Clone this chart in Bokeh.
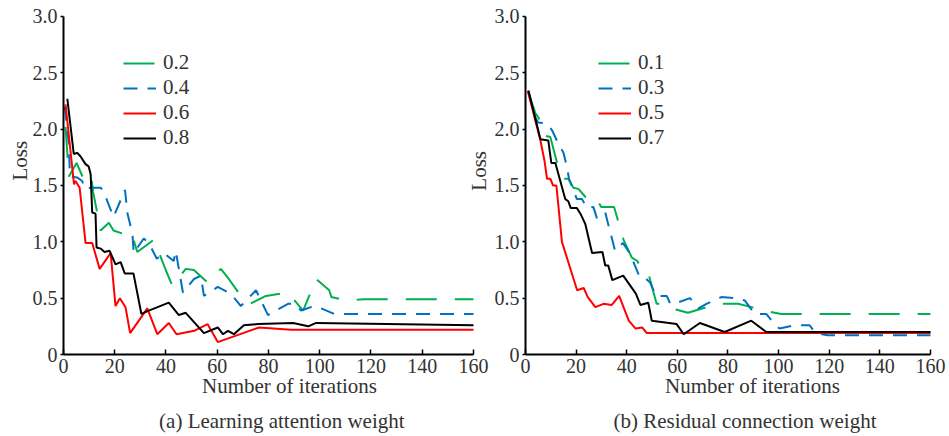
import math
from bokeh.plotting import figure
from bokeh.models import Range1d, LinearAxis, FixedTicker, Legend, LegendItem, Label, PrintfTickFormatter
from bokeh.embed import file_html
from bokeh.resources import INLINE

FONT = "Liberation Serif"
TXT = "#333333"

# ---------------- data ----------------
x_ticks = [0, 20, 40, 60, 80, 100, 120, 140, 160]
y_ticks = [0, 0.5, 1.0, 1.5, 2.0, 2.5, 3.0]
y_tick_labels = ["0", "0.5", "1.0", "1.5", "2.0", "2.5", "3.0"]

# (a) Learning attention weight
a_labels = ["0.2", "0.4", "0.6", "0.8"]
a_x_02 = [0.8, 2.1, 5.1, 7.8, 10.8, 11.5, 14.5, 17.7, 19.5, 23.5, 26.5, 28.8, 35.3, 39.9, 42.5, 47.7,
          50.9, 56.2, 61.4, 64.2, 69.2, 72.8, 79.0, 87.6, 93.5, 98.6, 103.7, 104.5, 110.3, 117.4, 160]
a_y_02 = [2.02, 1.58, 1.70, 1.56, 1.60, 1.45, 1.10, 1.17, 1.10, 1.07, 1.08, 0.91, 1.02, 0.75, 0.61, 0.76,
          0.75, 0.64, 0.76, 0.68, 0.52, 0.45, 0.52, 0.55, 0.39, 0.67, 0.57, 0.51, 0.48, 0.49, 0.49]
a_x_04 = [0.5, 2.1, 2.5, 5.4, 7.3, 8.3, 10.6, 14.5, 15.6, 19.5, 24.0, 25.0, 26.9, 27.4, 31.3, 33.3,
          36.4, 39.1, 43.0, 43.8, 46.6, 50.9, 53.6, 54.8, 60.2, 65.3, 69.2, 75.1, 79.8, 87.6, 90.0,
          92.7, 97.8, 100.5, 105.6, 160]
a_y_04 = [2.20, 1.87, 1.58, 1.57, 1.54, 1.47, 1.48, 1.48, 1.45, 1.22, 1.46, 1.25, 1.07, 0.90, 1.03, 0.99,
          0.85, 0.90, 0.83, 0.92, 0.55, 0.67, 0.70, 0.52, 0.60, 0.54, 0.43, 0.57, 0.35, 0.45, 0.45,
          0.39, 0.43, 0.41, 0.36, 0.36]
a_x_06 = [0.8, 4.1, 4.7, 6.3, 8.6, 11.2, 14.1, 18.4, 20.3, 22.0, 24.2, 26.0, 32.7, 36.6, 41.1, 44.1,
          51.0, 56.2, 60.2, 76.3, 88.8, 160]
a_y_06 = [2.22, 1.51, 1.54, 1.48, 0.99, 0.99, 0.76, 0.90, 0.43, 0.50, 0.42, 0.19, 0.41, 0.18, 0.28, 0.18,
          0.21, 0.27, 0.11, 0.24, 0.22, 0.22]
a_x_08 = [1.5, 4.0, 5.3, 6.6, 8.6, 9.8, 10.6, 11.2, 12.5, 12.9, 14.5, 16.0, 18.0, 20.3, 22.3, 23.9,
          27.3, 30.4, 33.3, 41.1, 45.0, 47.7, 54.8, 60.2, 62.2, 64.2, 66.5, 70.4, 75.9, 89.6, 95.5,
          98.6, 160]
a_y_08 = [2.27, 1.78, 1.79, 1.76, 1.69, 1.67, 1.60, 1.26, 1.25, 0.95, 0.94, 0.91, 0.92, 0.80, 0.82, 0.72,
          0.72, 0.36, 0.39, 0.46, 0.35, 0.37, 0.19, 0.24, 0.18, 0.21, 0.18, 0.26, 0.27, 0.28, 0.25,
          0.28, 0.26]

# (b) Residual connection weight
b_labels = ["0.1", "0.3", "0.5", "0.7"]
b_x_01 = [1.0, 3.9, 5.2, 7.9, 9.8, 12.5, 15.0, 16.9, 18.9, 20.9, 23.6, 26.3, 27.6, 29.9, 35.0, 38.7,
          42.0, 44.2, 46.5, 48.8, 51.8, 55.8, 59.4, 64.2, 76.0, 84.0, 96.5, 101.0, 160]
b_y_01 = [2.34, 2.14, 2.10, 1.94, 1.93, 1.70, 1.56, 1.56, 1.48, 1.47, 1.40, 1.38, 1.40, 1.31, 1.31, 1.02,
          0.86, 0.83, 0.72, 0.70, 0.45, 0.45, 0.40, 0.37, 0.45, 0.45, 0.38, 0.36, 0.36]
b_x_03 = [1.0, 3.5, 5.0, 8.5, 10.5, 13.0, 15.0, 16.4, 17.2, 18.9, 20.3, 22.3, 24.3, 26.8, 28.2, 31.5,
          35.4, 38.5, 40.6, 42.5, 44.5, 45.5, 47.2, 49.2, 51.2, 51.8, 55.8, 57.2, 60.0, 65.0, 68.3,
          71.5, 77.4, 83.3, 86.6, 90.5, 95.1, 98.4, 100.4, 106.3, 112.2, 114.6, 119.3, 160]
b_y_03 = [2.34, 2.12, 2.06, 2.05, 1.99, 1.87, 1.79, 1.66, 1.56, 1.46, 1.38, 1.38, 1.30, 1.31, 1.21, 1.26,
          0.92, 0.99, 0.92, 0.83, 0.72, 0.68, 0.68, 0.64, 0.54, 0.52, 0.52, 0.45, 0.46, 0.50, 0.41,
          0.45, 0.51, 0.50, 0.48, 0.36, 0.36, 0.27, 0.23, 0.26, 0.26, 0.19, 0.17, 0.17]
b_x_05 = [0.9, 5.9, 7.5, 8.5, 9.8, 10.9, 12.2, 12.6, 14.4, 20.4, 23.0, 24.6, 27.6, 30.8, 34.1, 37.0,
          40.8, 43.5, 46.1, 47.9, 160]
b_y_05 = [2.34, 1.90, 1.72, 1.56, 1.56, 1.50, 1.50, 1.41, 1.00, 0.57, 0.59, 0.51, 0.42, 0.45, 0.44, 0.52,
          0.30, 0.23, 0.24, 0.19, 0.19]
b_x_07 = [1.2, 5.9, 9.0, 10.2, 11.8, 15.7, 16.9, 17.9, 20.3, 21.7, 23.6, 26.3, 30.4, 31.5, 32.7, 34.3,
          38.6, 43.6, 45.4, 48.5, 49.9, 59.7, 62.5, 68.9, 78.7, 89.2, 95.1, 160]
b_y_07 = [2.34, 1.91, 1.90, 1.70, 1.70, 1.38, 1.36, 1.30, 1.30, 1.25, 1.16, 0.90, 0.91, 0.79, 0.79, 0.66,
          0.70, 0.54, 0.44, 0.46, 0.30, 0.27, 0.18, 0.28, 0.20, 0.30, 0.20, 0.20]

colors = ["#00B050", "#0070C0", "#FF0000", "#000000"]
dashes = ["31 18", "14 10", "solid", "solid"]

captions = ["(a) Learning attention weight", "(b) Residual connection weight"]
x_title = "Number of iterations"
y_title = "Loss"

# ---------------- figure ----------------
# one canvas whose plot frame covers everything; both panels are drawn in it
p = figure(width=949, height=436, output_backend="svg", toolbar_location=None,
           x_range=Range1d(-24.585, 345.756), y_range=Range1d(-0.7278, 3.142),
           x_axis_location=None, y_axis_location=None,
           min_border_left=0, min_border_right=0, min_border_top=0, min_border_bottom=0)
p.outline_line_color = None
p.background_fill_color = "white"
p.border_fill_color = "white"
p.extra_x_ranges = {"b": Range1d(-207.41, 167.51)}
p.grid.grid_line_color = None


def style_axis(ax):
    ax.axis_line_color = "black"
    ax.axis_line_width = 2
    ax.major_tick_line_color = "black"
    ax.major_tick_line_width = 1.5
    ax.minor_tick_line_color = None
    ax.major_label_text_font = FONT
    ax.major_label_text_font_size = "20px"
    ax.major_label_text_color = TXT


def add_panel(rng, xs, ys, labels, caption, leg_x, xlab_x, ylab_x, ylab_y):
    ya = LinearAxis(x_range_name=rng, fixed_location=0, bounds=(0, 3),
                    ticker=FixedTicker(ticks=y_ticks),
                    formatter=PrintfTickFormatter(format="%.1f"),
                    major_label_overrides=dict(zip(y_ticks, y_tick_labels)))
    style_axis(ya)
    ya.major_tick_in = 0
    ya.major_tick_out = 3
    ya.major_label_standoff = 3
    p.add_layout(ya, "left")

    xa = LinearAxis(x_range_name=rng, fixed_location=0, bounds=(0, 160),
                    ticker=FixedTicker(ticks=x_ticks))
    style_axis(xa)
    xa.major_tick_in = 5
    xa.major_tick_out = 0
    xa.major_label_standoff = 4
    p.add_layout(xa, "below")

    rends = []
    for x, y, c, d in zip(xs, ys, colors, dashes):
        r = p.line(x, y, x_range_name=rng, line_color=c, line_width=2, line_dash=d)
        rends.append(r)

    leg = Legend(items=[LegendItem(label=l, renderers=[r]) for l, r in zip(labels, rends)],
                 location=(leg_x, 286), glyph_width=33, glyph_height=22, label_height=22,
                 label_standoff=7, spacing=-1, padding=0, margin=0,
                 border_line_color=None, background_fill_alpha=0,
                 label_text_font=FONT, label_text_font_size="21px", label_text_color=TXT)
    p.add_layout(leg, "center")

    p.add_layout(Label(x=xlab_x, y=-0.284, x_range_name=rng, text=x_title,
                       text_align="center", text_baseline="middle",
                       text_font=FONT, text_font_size="21px", text_color=TXT))
    p.add_layout(Label(x=xlab_x - 3, y=-0.586, x_range_name=rng, text=caption,
                       text_align="center", text_baseline="middle",
                       text_font=FONT, text_font_size="21px", text_color=TXT))
    p.add_layout(Label(x=ylab_x, y=ylab_y, x_range_name=rng, text=y_title, angle=math.pi / 2,
                       text_align="center", text_baseline="middle",
                       text_font=FONT, text_font_size="21px", text_color=TXT))


add_panel("default", [a_x_02, a_x_04, a_x_06, a_x_08], [a_y_02, a_y_04, a_y_06, a_y_08],
          a_labels, captions[0], 123, 88.2, -16.8, 1.72)
add_panel("b", [b_x_01, b_x_03, b_x_05, b_x_07], [b_y_01, b_y_03, b_y_05, b_y_07],
          b_labels, captions[1], 598, 89.7, -18.2, 1.63)

open("out.html", "w").write(file_html(p, INLINE))
